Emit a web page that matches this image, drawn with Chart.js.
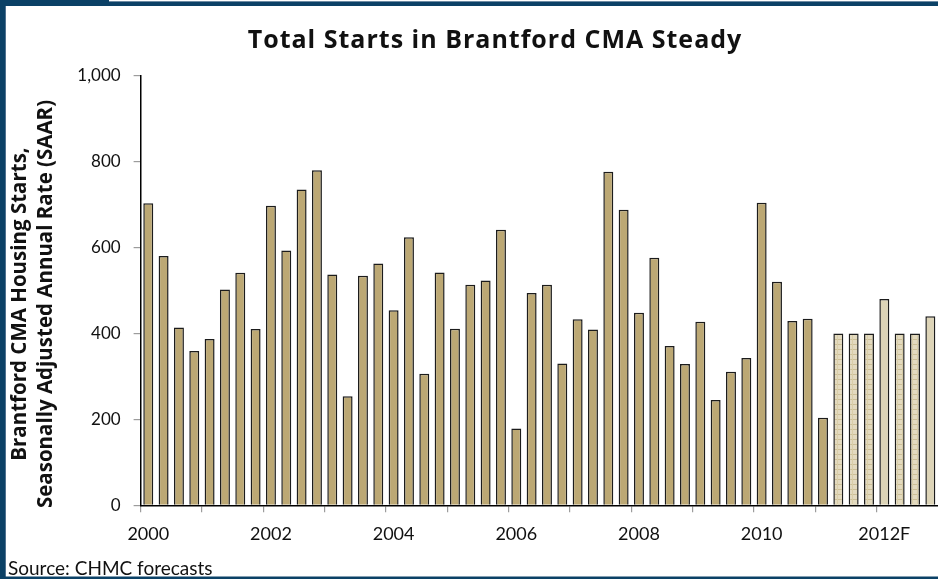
<!DOCTYPE html>
<html>
<head>
<meta charset="utf-8">
<title>Total Starts in Brantford CMA Steady</title>
<script src="https://cdn.jsdelivr.net/npm/chart.js@4.4.1/dist/chart.umd.min.js"></script>
<style>
  html, body { margin: 0; padding: 0; background: #ffffff; }
  #wrap { width: 938px; height: 579px; position: relative; }
</style>
</head>
<body>
<div id="wrap"><canvas id="chart" width="938" height="579"></canvas></div>
<script>
// Quarterly housing starts, SAAR
const years = [2000, 2001, 2002, 2003, 2004, 2005, 2006, 2007, 2008, 2009, 2010, 2011, 2012];
const quarters = ['Q1', 'Q2', 'Q3', 'Q4'];
const categories = [];
years.forEach(y => quarters.forEach(q => categories.push(y + ' ' + q)));

// Actual starts, 2000 Q1 - 2011 Q1
const actualStarts = [
  703, 580, 414, 359,
  387, 502, 541, 410,
  697, 593, 735, 780,
  537, 254, 534, 563,
  454, 624, 306, 542,
  411, 513, 523, 641,
  179, 494, 513, 330,
  433, 409, 776, 688,
  448, 576, 371, 329,
  427, 245, 311, 343,
  704, 520, 429, 434,
  204
];
// Forecast starts, 2011 Q2 - 2012 Q4
const forecastStarts = [400, 400, 400, 480, 400, 400, 440];

// Axis labels: one every second year
const yearTickLabels = ['2000', '2002', '2004', '2006', '2008', '2010', '2012F'];
const yTicks = [0, 200, 400, 600, 800, 1000];

const chartTitle = 'Total Starts in Brantford CMA Steady';
const yTitleLines = ['Brantford CMA Housing Starts,', 'Seasonally Adjusted Annual Rate (SAAR)'];
const sourceNote = 'Source: CHMC forecasts';

const nActual = actualStarts.length;
const actualData = actualStarts.concat(forecastStarts.map(() => null));
const forecastData = actualStarts.map(() => null).concat(forecastStarts);

// Small grid texture for forecast bars
function makeGridPattern() {
  const p = document.createElement('canvas');
  p.width = 5; p.height = 5;
  const g = p.getContext('2d');
  g.fillStyle = '#e3dabf';
  g.fillRect(0, 0, 5, 5);
  g.fillStyle = '#cdbf96';
  g.fillRect(0, 4, 5, 1);
  g.fillStyle = '#d9cea9';
  g.fillRect(2, 0, 1, 5);
  return g.createPattern(p, 'repeat');
}
const gridPattern = makeGridPattern();

const FRAME = '#0b4166';
const AREA = { left: 140.6, top: 75.6, bottom: 505.3 };

// Page frame, title, rotated axis title and source line
const decorations = {
  id: 'decorations',
  beforeDraw(chart) {
    const ctx = chart.ctx;
    ctx.save();
    ctx.fillStyle = '#ffffff';
    ctx.fillRect(0, 0, chart.width, chart.height);
    ctx.fillStyle = FRAME;
    ctx.fillRect(0, 0, 109, 6);
    ctx.fillRect(109, 2, chart.width - 109, 4);
    ctx.fillStyle = '#6d8aa2';
    ctx.fillRect(109, 1, chart.width - 109, 1);
    ctx.fillStyle = FRAME;
    ctx.fillRect(0, 0, 5, chart.height);
    ctx.fillStyle = '#4f7290';
    ctx.fillRect(5, 6, 1, chart.height - 8);
    ctx.fillStyle = FRAME;
    ctx.fillRect(0, chart.height - 2.5, chart.width, 2.5);
    ctx.restore();
  },
  afterDraw(chart) {
    const ctx = chart.ctx;
    ctx.save();
    ctx.fillStyle = '#111111';
    ctx.textAlign = 'center';
    ctx.textBaseline = 'alphabetic';
    ctx.font = 'bold 25px "Open Sans"';
    if ('letterSpacing' in ctx) ctx.letterSpacing = '1px';
    ctx.fillText(chartTitle, 495, 48);
    if ('letterSpacing' in ctx) ctx.letterSpacing = '0px';

    ctx.font = 'bold 20.5px "Open Sans"';
    ctx.textBaseline = 'middle';
    ctx.translate(0, 304);
    ctx.rotate(-Math.PI / 2);
    ctx.fillText(yTitleLines[0], 0, 20);
    ctx.fillText(yTitleLines[1], 0, 46);
    ctx.restore();

    ctx.save();
    ctx.fillStyle = '#111111';
    ctx.font = '19px Lato';
    ctx.textAlign = 'left';
    ctx.textBaseline = 'alphabetic';
    ctx.fillText(sourceNote, 8, 575);
    ctx.restore();
  }
};

const xAxisHeight = 40;

new Chart(document.getElementById('chart'), {
  type: 'bar',
  data: {
    labels: categories,
    datasets: [
      {
        label: 'Actual',
        data: actualData,
        backgroundColor: '#bca874',
        borderColor: '#1c1c1c',
        borderWidth: 1.5,
        grouped: false,
        barPercentage: 0.65,
        categoryPercentage: 1.0
      },
      {
        label: 'Forecast',
        data: forecastData,
        backgroundColor: c => (c.dataIndex === nActual + 3 || c.dataIndex === nActual + 6) ? '#ddd4b7' : gridPattern,
        borderColor: '#1c1c1c',
        borderWidth: 1.5,
        grouped: false,
        barPercentage: 0.65,
        categoryPercentage: 1.0
      }
    ]
  },
  options: {
    responsive: false,
    animation: false,
    events: [],
    layout: { padding: { left: 0, right: 0, top: AREA.top, bottom: 579 - AREA.bottom - xAxisHeight } },
    plugins: {
      legend: { display: false },
      tooltip: { enabled: false },
      title: { display: false }
    },
    scales: {
      x: {
        offset: true,
        grid: {
          offset: true,
          drawOnChartArea: false,
          drawTicks: true,
          tickLength: 7,
          lineWidth: 1.2,
          color: c => (c.index % 4 === 0 ? '#9c9c9c' : 'rgba(0,0,0,0)')
        },
        border: { color: '#000000', width: 1.5 },
        ticks: {
          autoSkip: false,
          maxRotation: 0,
          minRotation: 0,
          padding: 6,
          color: '#111111',
          font: { family: 'Lato', size: 18, lineHeight: 1.8 },
          callback: (v, i) => (i % 8 === 0 ? yearTickLabels[i / 8] : '')
        },
        afterFit: s => { s.height = xAxisHeight; }
      },
      y: {
        min: 0,
        max: 1000,
        afterBuildTicks: s => { s.ticks = yTicks.map(v => ({ value: v })); },
        grid: {
          drawOnChartArea: false,
          drawTicks: true,
          tickLength: 7,
          lineWidth: 1.2,
          color: '#9c9c9c'
        },
        border: { color: '#000000', width: 1.5 },
        ticks: {
          padding: 13,
          color: '#111111',
          font: { family: 'Lato', size: 17 },
          callback: v => v.toLocaleString('en-US')
        },
        afterFit: s => { s.width = AREA.left; }
      }
    }
  },
  plugins: [decorations]
});
</script>
</body>
</html>
